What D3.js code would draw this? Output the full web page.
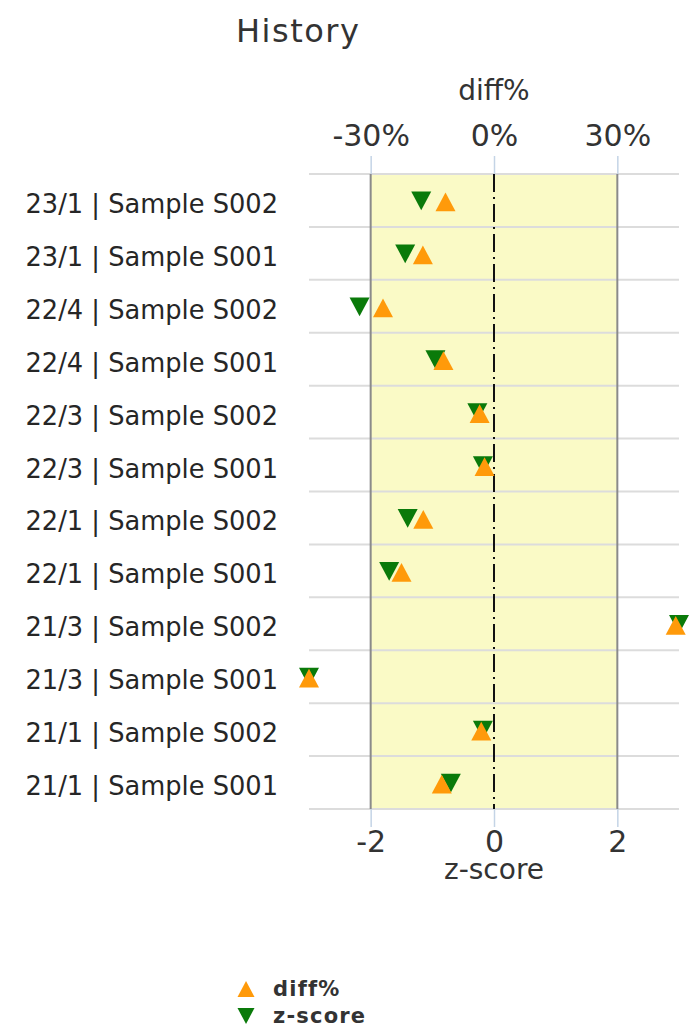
<!DOCTYPE html>
<html>
<head>
<meta charset="utf-8">
<script src="https://cdn.jsdelivr.net/npm/d3@7"></script>
<style>
  body { margin: 0; background: #fff; }
  text { font-family: "DejaVu Sans", sans-serif; }
</style>
</head>
<body>
<div id="container"></div>
<script>
// rows, top to bottom
var labels = [
	"23/1 | Sample S002", "23/1 | Sample S001",
	"22/4 | Sample S002", "22/4 | Sample S001",
	"22/3 | Sample S002", "22/3 | Sample S001",
	"22/1 | Sample S002", "22/1 | Sample S001",
	"21/3 | Sample S002", "21/3 | Sample S001",
	"21/1 | Sample S002", "21/1 | Sample S001"
];
var diffPct = [-11.8, -17.3, -27.0, -12.3, -3.5, -2.3, -17.2, -22.5, 44.2, -45.0, -3.1, -12.7];
var zScore = [-1.18, -1.44, -2.18, -0.95, -0.27, -0.18, -1.40, -1.70, 3.0, -3.0, -0.18, -0.70];
var zTicks = [-2, 0, 2];
var diffTicks = [-30, 0, 30];
var band = [-2, 2];

var w = 699, h = 1031;
var plotLeft = 309, plotRight = 679, plotTop = 174, plotBottom = 809;

var svg = d3.select("#container")
	.append("svg")
	.attr("width", w)
	.attr("height", h);

var x = d3.scaleLinear().domain([-3, 3]).range([plotLeft, plotRight]).clamp(true);
var xd = d3.scaleLinear().domain([-45, 45]).range([plotLeft, plotRight]).clamp(true);
var y = d3.scaleBand().domain(labels).range([plotTop, plotBottom]);

//triangle centred on its box (size = width in px), height a bit under width
var boxTriangle = {
	draw: function(ctx, size){
		var hw = size / 2, hh = size * 0.47;
		ctx.moveTo(0, -hh);
		ctx.lineTo(hw, hh);
		ctx.lineTo(-hw, hh);
		ctx.closePath();
	}
};

//yellow band between -2 and 2
svg.append("rect")
	.attr("x", x(band[0]))
	.attr("y", plotTop)
	.attr("width", x(band[1]) - x(band[0]))
	.attr("height", plotBottom - plotTop)
	.attr("fill", "#fafac6");

//horizontal grid at row boundaries
var bounds = labels.map(function(d){ return y(d); }).concat([plotBottom]);
svg.selectAll("line.grid")
	.data(bounds)
	.enter()
	.append("line")
	.attr("class", "grid")
	.attr("x1", plotLeft).attr("x2", plotRight)
	.attr("y1", function(d){ return d; })
	.attr("y2", function(d){ return d; })
	.attr("stroke", "#dcdcdc")
	.attr("stroke-width", 2);

//band edges
svg.selectAll("line.edge")
	.data(band)
	.enter()
	.append("line")
	.attr("class", "edge")
	.attr("x1", function(d){ return x(d); })
	.attr("x2", function(d){ return x(d); })
	.attr("y1", plotTop).attr("y2", plotBottom)
	.attr("stroke", "#8a8a8a")
	.attr("stroke-width", 2);

//zero line
svg.append("line")
	.attr("x1", x(0)).attr("x2", x(0))
	.attr("y1", plotTop).attr("y2", plotBottom)
	.attr("stroke", "#111")
	.attr("stroke-width", 2)
	.attr("stroke-dasharray", "18,5,2,5");

//axes
var topAxis = svg.append("g")
	.attr("transform", "translate(0," + plotTop + ")")
	.call(d3.axisTop(xd).tickValues(diffTicks).tickSize(18).tickPadding(10)
		.tickFormat(function(d){ return d + "%"; }));

var bottomAxis = svg.append("g")
	.attr("transform", "translate(0," + plotBottom + ")")
	.call(d3.axisBottom(x).tickValues(zTicks).tickSize(18).tickPadding(4)
		.tickFormat(function(d){ return String(d); }));

[topAxis, bottomAxis].forEach(function(g){
	g.select(".domain").remove();
	g.selectAll(".tick line").attr("stroke", "#c4d4e6").attr("stroke-width", 1.5);
	g.selectAll(".tick text")
		.attr("font-family", "DejaVu Sans")
		.attr("font-size", "30px")
		.attr("fill", "#333");
});

svg.append("text")
	.attr("x", x(0)).attr("y", 100)
	.attr("text-anchor", "middle")
	.attr("font-size", "28px")
	.attr("fill", "#333")
	.text("diff%");

svg.append("text")
	.attr("x", x(0)).attr("y", 879)
	.attr("text-anchor", "middle")
	.attr("font-size", "28px")
	.attr("fill", "#333")
	.text("z-score");

//title
svg.append("text")
	.attr("x", 236).attr("y", 42)
	.attr("font-size", "32px")
	.attr("letter-spacing", "1.5px")
	.attr("fill", "#333")
	.text("History");

//row labels
svg.selectAll("text.label")
	.data(labels)
	.enter()
	.append("text")
	.attr("class", "label")
	.attr("x", 278)
	.attr("y", function(d){ return y(d) + y.bandwidth() / 2 + 12.5; })
	.attr("text-anchor", "end")
	.attr("font-size", "25.7px")
	.attr("fill", "#262626")
	.text(function(d){ return d; });

var tri = d3.symbol().type(boxTriangle).size(20);
var cy = function(i){ return y(labels[i]) + y.bandwidth() / 2; };

//z-score first, diff% drawn on top
svg.selectAll("path.z")
	.data(zScore)
	.enter()
	.append("path")
	.attr("class", "z")
	.attr("d", tri)
	.attr("transform", function(d, i){ return "translate(" + x(d) + "," + (cy(i) + 0.5) + ") rotate(180)"; })
	.attr("fill", "#0a7a0a");

svg.selectAll("path.d")
	.data(diffPct)
	.enter()
	.append("path")
	.attr("class", "d")
	.attr("d", tri)
	.attr("transform", function(d, i){ return "translate(" + xd(d) + "," + (cy(i) + 1.5) + ")"; })
	.attr("fill", "#ff9a0a");

//legend
var legend = [
	{ name: "diff%", color: "#ff9a0a", rot: 0, y: 989 },
	{ name: "z-score", color: "#0a7a0a", rot: 180, y: 1016 }
];
var lg = svg.selectAll("g.legend")
	.data(legend)
	.enter()
	.append("g")
	.attr("class", "legend")
	.attr("transform", function(d){ return "translate(246," + d.y + ")"; });

lg.append("path")
	.attr("d", d3.symbol().type(boxTriangle).size(17))
	.attr("transform", function(d){ return "rotate(" + d.rot + ")"; })
	.attr("fill", function(d){ return d.color; });

lg.append("text")
	.attr("x", 27)
	.attr("y", 7)
	.attr("font-size", "21px")
	.attr("font-weight", "bold")
	.attr("letter-spacing", "1.2px")
	.attr("fill", "#333")
	.text(function(d){ return d.name; });
</script>
</body>
</html>
